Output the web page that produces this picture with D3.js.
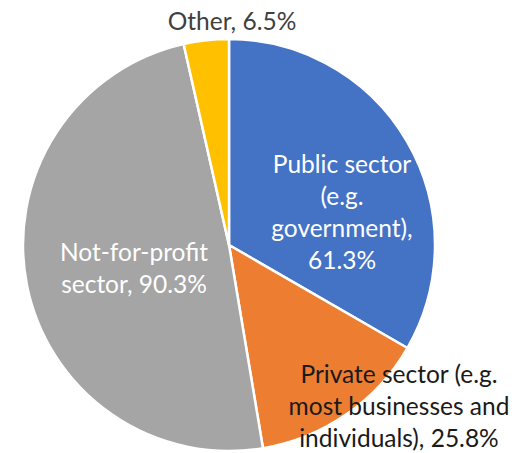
<!DOCTYPE html>
<html><head><meta charset="utf-8">
<script src="https://cdn.jsdelivr.net/npm/d3@7"></script>
<style>html,body{margin:0;padding:0;background:#fff;}svg{display:block;}</style>
</head><body>
<svg id="chart" width="517" height="453"></svg>
<script>
const categories = ["Public sector (e.g. government)", "Private sector (e.g. most businesses and individuals)", "Not-for-profit sector", "Other"];
const values = [61.3, 25.8, 90.3, 6.5];
const labelLines = [
  ["Public sector", "(e.g.", "government),", "61.3%"],
  ["Private sector (e.g.", "most businesses and", "individuals), 25.8%"],
  ["Not-for-profit", "sector, 90.3%"],
  ["Other, 6.5%"]
];
const colors = ["#4472C4", "#ED7D31", "#A5A5A5", "#FFC000"];
const labelColors = ["#ffffff", "#1a1a1a", "#ffffff", "#404040"];
// label block centres (layout, not data)
const labelCenters = [[342, 211], [399, 405], [134, 267], [232, 20]];

const svg = d3.select("#chart");
const cx = 229, cy = 245, R = 206;
const g = svg.append("g").attr("transform", `translate(${cx},${cy})`);
const data = categories.map((c, i) => ({name: c, value: values[i], i}));
const pie = d3.pie().value(d => d.value).sort(null);
const arc = d3.arc().innerRadius(0).outerRadius(R);
g.selectAll("path").data(pie(data)).join("path")
  .attr("d", arc)
  .attr("fill", d => colors[d.data.i])
  .attr("stroke", "#fff").attr("stroke-width", 2.5).attr("stroke-linejoin", "round");

const lineH = 32;
labelLines.forEach((lines, i) => {
  const [x, y] = labelCenters[i];
  const t = svg.append("text")
    .attr("text-anchor", "middle")
    .attr("font-family", "Lato, 'Open Sans', sans-serif")
    .attr("font-size", 24.5)
    .attr("fill", labelColors[i]);
  lines.forEach((ln, k) => {
    t.append("tspan").attr("x", x)
      .attr("y", y + (k - (lines.length - 1) / 2) * lineH)
      .attr("dominant-baseline", "central")
      .text(ln);
  });
});
</script>
</body></html>
